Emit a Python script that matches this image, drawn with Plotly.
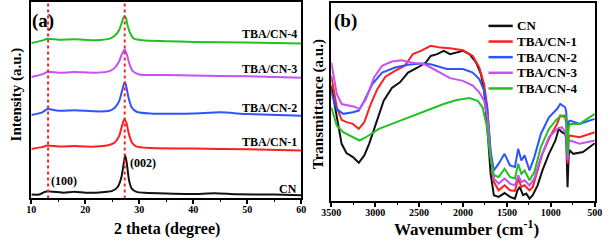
import plotly.graph_objects as go

# ---------------- XRD data (panel a) ----------------
cn_x = [10, 11.5, 12.5, 13.1, 14, 16, 18, 20, 22, 24, 25, 26, 26.7, 27.1, 27.4, 27.7, 28.1, 28.6, 29.5, 31, 35, 40, 44, 48, 55, 60]
cn_y = [1.7, 1.7, 3.1, 3.4, 3.1, 2.7, 3.2, 2.7, 2.7, 3.1, 3.6, 5.6, 10.7, 17.5, 22.0, 17.5, 9.0, 4.8, 3.1, 2.6, 2.2, 2.0, 2.4, 1.9, 1.7, 1.4]

tba1_x = [10, 12, 13, 15, 18, 20, 22, 24, 25.5, 26.3, 26.8, 27.2, 27.6, 28, 28.6, 29.5, 32, 40, 50, 60]
tba1_y = [25.2, 26.1, 26.9, 26.4, 26.7, 26.4, 26.4, 26.9, 28.6, 32, 37.1, 40.5, 38.8, 33.7, 28.6, 26.4, 25.7, 25.4, 25.0, 24.4]

tba2_x = [10, 12, 13, 15, 18, 22, 24.5, 25.5, 26.3, 26.8, 27.2, 27.4, 27.7, 28, 28.6, 29.5, 32, 40, 45, 50, 60]
tba2_y = [42.6, 44, 45.7, 44.8, 45.1, 44.5, 44.8, 46.5, 49.9, 55, 58.8, 59.3, 55.9, 51.6, 46.5, 44.3, 43.4, 43.4, 44, 43.1, 42.2]

tba3_x = [10, 12, 13, 15, 18, 22, 24.5, 25.5, 26.3, 26.8, 27.3, 27.7, 28.2, 28.8, 30, 35, 40, 50, 60]
tba3_y = [62.2, 63.5, 64.9, 64.4, 64.7, 64.4, 65.2, 67, 70.4, 74.1, 76.3, 73.8, 68.7, 65.2, 63.5, 63.2, 62.9, 62.5, 61.8]

tba4_x = [10, 12, 13, 15, 18, 22, 24.5, 25.5, 26.3, 26.8, 27.2, 27.5, 27.8, 28.3, 29, 31, 35, 40, 50, 60]
tba4_y = [79.7, 80.9, 81.9, 81.4, 81.6, 81.1, 81.9, 83.5, 86.5, 90.5, 93.4, 92.8, 89.1, 84.8, 81.9, 80.9, 80.6, 80.2, 79.9, 79.4]

ref_lines = [13.1, 27.3]

# ---------------- FTIR data (panel b) ----------------
ir_cn_w = [3500, 3437, 3382, 3327, 3253, 3187, 3124, 3069, 2995, 2903, 2810, 2718, 2626, 2515, 2423, 2368, 2294, 2220, 2147, 2073,
           2000, 1926, 1852, 1796, 1760, 1723, 1686, 1649, 1594, 1527, 1465, 1409, 1380, 1354, 1317, 1280, 1243, 1206, 1151, 1096,
           1022, 948, 911, 874, 837, 825, 810, 797, 782, 745, 635, 500]
ir_cn_t = [57.6, 41.2, 27.5, 22.7, 20.6, 17.7, 21.5, 27.5, 37.8, 49.8, 56.4, 59.3, 64.4, 67, 69.6, 73, 73.9, 75.6, 73.9, 74.7,
           75.6, 73.9, 69.6, 63.6, 55, 36, 12, 0.9, 0, 2, 0, -0.9, 3.4, 5.2, 0.9, 1.7, -0.9, 0.9, 6, 13.7,
           22.3, 29.2, 35.2, 33.5, 32.6, 30, 5, 22, 24, 22.3, 23.2, 27.8]

ir_t1_w = [3500, 3437, 3382, 3327, 3253, 3187, 3124, 3050, 2976, 2884, 2774, 2663, 2571, 2479, 2368, 2257, 2147, 2000, 1889, 1815,
           1760, 1723, 1686, 1649, 1594, 1527, 1465, 1409, 1372, 1336, 1299, 1243, 1206, 1151, 1096, 1022, 930, 893, 837, 825,
           810, 797, 782, 672, 500]
ir_t1_t = [62.7, 46.4, 39.9, 38.7, 37.8, 35.2, 38.7, 48.1, 55.8, 62.2, 65.3, 67.9, 73.9, 75.6, 78.2, 77.3, 77, 75.9, 73, 67,
           58.4, 46.4, 22.3, 7.7, 3.4, 6, 3.4, 3.1, 9.5, 5.2, 6, 3.4, 5.2, 13.7, 22.3, 30.1, 37.8, 42.1, 41.2, 38,
           17.2, 31, 31.8, 30.9, 33.5]

ir_t2_w = [3500, 3437, 3364, 3253, 3187, 3124, 3032, 2921, 2774, 2626, 2479, 2368, 2184, 2000, 1889, 1815, 1760, 1723, 1686, 1649,
           1594, 1527, 1465, 1409, 1372, 1336, 1299, 1243, 1188, 1114, 1022, 930, 893, 837, 825, 810, 797, 782, 672, 500]
ir_t2_t = [54.1, 45.5, 43, 43.8, 44.7, 49.8, 58.4, 64.4, 67, 68.4, 69.1, 68.7, 66.2, 66.2, 64.4, 61, 55, 44.7, 24, 13.7,
           17.2, 22.3, 16.3, 15.5, 24.9, 18.9, 21.5, 13.7, 20.6, 32.6, 41.2, 45.5, 48.1, 46.4, 44, 32.6, 39, 39.5, 37.8, 40.4]

ir_t3_w = [3500, 3437, 3382, 3308, 3235, 3179, 3105, 3013, 2921, 2810, 2700, 2589, 2442, 2368, 2257, 2147, 2000, 1889, 1815, 1760,
           1723, 1686, 1649, 1594, 1527, 1465, 1409, 1372, 1336, 1299, 1243, 1188, 1114, 1022, 930, 874, 837, 825, 810, 797,
           782, 672, 500]
ir_t3_t = [69.6, 53.3, 48.1, 47.3, 46.7, 45.5, 50.7, 61.9, 67.9, 70.1, 70.8, 69.6, 68.7, 67, 64.4, 61.5, 60.1, 57.6, 54.1, 49.8,
           41.2, 20.6, 9.5, 6.9, 9.5, 6.9, 6, 11.2, 7.7, 8.6, 6, 9.5, 20.6, 30.9, 35.2, 36.1, 33.5, 31, 18.9, 28,
           29.2, 27.5, 29.2]

ir_t4_w = [3500, 3437, 3364, 3253, 3179, 3105, 2958, 2810, 2663, 2515, 2368, 2220, 2073, 1926, 1833, 1778, 1734, 1693, 1649, 1594,
           1527, 1465, 1409, 1372, 1336, 1299, 1243, 1188, 1114, 1022, 930, 874, 837, 825, 810, 797, 782, 672, 500]
ir_t4_t = [46.4, 36.9, 33.5, 30.9, 29.2, 30.9, 35.2, 37.8, 40.4, 43, 45.5, 48.1, 50.2, 51.2, 49.8, 46.4, 37.8, 22.3, 11.2, 10.3,
           14.6, 10.3, 9.5, 17.2, 12, 13.7, 8.6, 12.9, 25.8, 35.2, 40.4, 42.1, 42.1, 40, 22.3, 36, 37.8, 37.8, 43]

names = ["CN", "TBA/CN-1", "TBA/CN-2", "TBA/CN-3", "TBA/CN-4"]
colors = ["#111111", "#ff1f1f", "#2a55ff", "#c452f5", "#22c022"]

xrd_sets = [(cn_x, cn_y), (tba1_x, tba1_y), (tba2_x, tba2_y), (tba3_x, tba3_y), (tba4_x, tba4_y)]
ir_sets = [(ir_cn_w, ir_cn_t), (ir_t1_w, ir_t1_t), (ir_t2_w, ir_t2_t), (ir_t3_w, ir_t3_t), (ir_t4_w, ir_t4_t)]

FONT = "Liberation Serif"
W, H = 612, 241

fig = go.Figure()

for (xs, ys), c, n in zip(xrd_sets, colors, names):
    fig.add_trace(go.Scatter(x=xs, y=ys, mode="lines", line=dict(color=c, width=2, shape="spline", smoothing=0.5),
                             xaxis="x", yaxis="y", showlegend=False, name=n))

for xv in ref_lines:
    fig.add_trace(go.Scatter(x=[xv, xv], y=[-0.3, 100.5], mode="lines",
                             line=dict(color="#ff2020", width=2, dash="dot"),
                             xaxis="x", yaxis="y", showlegend=False, hoverinfo="skip"))

for (ws, ts), c, n in zip(ir_sets, colors, names):
    fig.add_trace(go.Scatter(x=ws, y=ts, mode="lines", line=dict(color=c, width=2),
                             xaxis="x2", yaxis="y2", showlegend=False, name=n))

axis_common = dict(showline=True, mirror=True, linecolor="black", linewidth=2, showgrid=False, zeroline=False)

fig.update_layout(
    width=W, height=H,
    margin=dict(l=0, r=0, t=0, b=0),
    paper_bgcolor="white", plot_bgcolor="white",
    font=dict(family=FONT, color="black", size=10, weight="bold"),
    xaxis=dict(domain=[22 / W, 300 / W], range=[10, 60], tickvals=[10, 20, 30, 40, 50, 60],
               ticks="outside", ticklen=4, tickwidth=1.5, tickcolor="black", ticklabelstandoff=-3,
               minor=dict(ticks="outside", ticklen=2, tickwidth=1.2, dtick=5, tickcolor="black"),
               tickfont=dict(family=FONT, size=10, weight="bold"), anchor="y", **axis_common),
    yaxis=dict(domain=[1 - 198.3 / H, 1 - 1.5 / H], range=[-0.3, 100.5], showticklabels=False, ticks="",
               anchor="x", **axis_common),
    xaxis2=dict(domain=[331 / W, 602.5 / W], range=[3500, 500], tickvals=[3500, 3000, 2500, 2000, 1500, 1000, 500],
                ticks="outside", ticklen=4, tickwidth=1.5, tickcolor="black", ticklabelstandoff=-3,
                minor=dict(ticks="outside", ticklen=2, tickwidth=1.2, dtick=250, tickcolor="black"),
                tickfont=dict(family=FONT, size=10, weight="bold"), anchor="y2", **axis_common),
    yaxis2=dict(domain=[1 - 201 / H, 1 - 2 / H], range=[-2.2, 100.4], showticklabels=False, ticks="",
                anchor="x2", **axis_common),
    showlegend=False,
)

def ann(text, x, y, size=10, xanchor="left", angle=0):
    fig.add_annotation(text=text, x=x / W, y=1 - y / H, xref="paper", yref="paper", showarrow=False,
                       xanchor=xanchor, yanchor="middle", textangle=angle,
                       font=dict(family=FONT, size=size, color="black", weight="bold"))

# legend for panel (b): swatch line + label
for i, (n, c) in enumerate(zip(names, colors)):
    yy = 25 + 15.7 * i
    fig.add_shape(type="line", xref="paper", yref="paper", x0=493 / W, x1=518 / W,
                  y0=1 - yy / H, y1=1 - yy / H, line=dict(color=c, width=2.5))
    ann(n, 520, yy, 13)

# panel (a) curve labels
ann("TBA/CN-4", 298, 33, 12, "right")
ann("TBA/CN-3", 298, 68, 12, "right")
ann("TBA/CN-2", 298, 107, 12, "right")
ann("TBA/CN-1", 298, 142, 12, "right")
ann("CN", 298, 189, 12, "right")
ann("(002)", 122, 163, 12)
ann("(100)", 40, 181, 12)
ann("(a)", 21, 20, 19)
ann("(b)", 332, 20, 19)
# axis titles
ann("Intensity (a.u.)", 7, 94, 15, "center", -90)
ann("Transmittance (a.u.)", 318, 104, 15, "center", -90)
ann("2 theta (degree)", 162, 229, 16, "center")
ann("Wavenumber (cm<sup>-1</sup>)", 470, 228, 17, "center")

fig.write_html("out.html", config={"displayModeBar": False},
               post_script="document.body.style.margin='0';document.body.style.overflow='hidden';")
